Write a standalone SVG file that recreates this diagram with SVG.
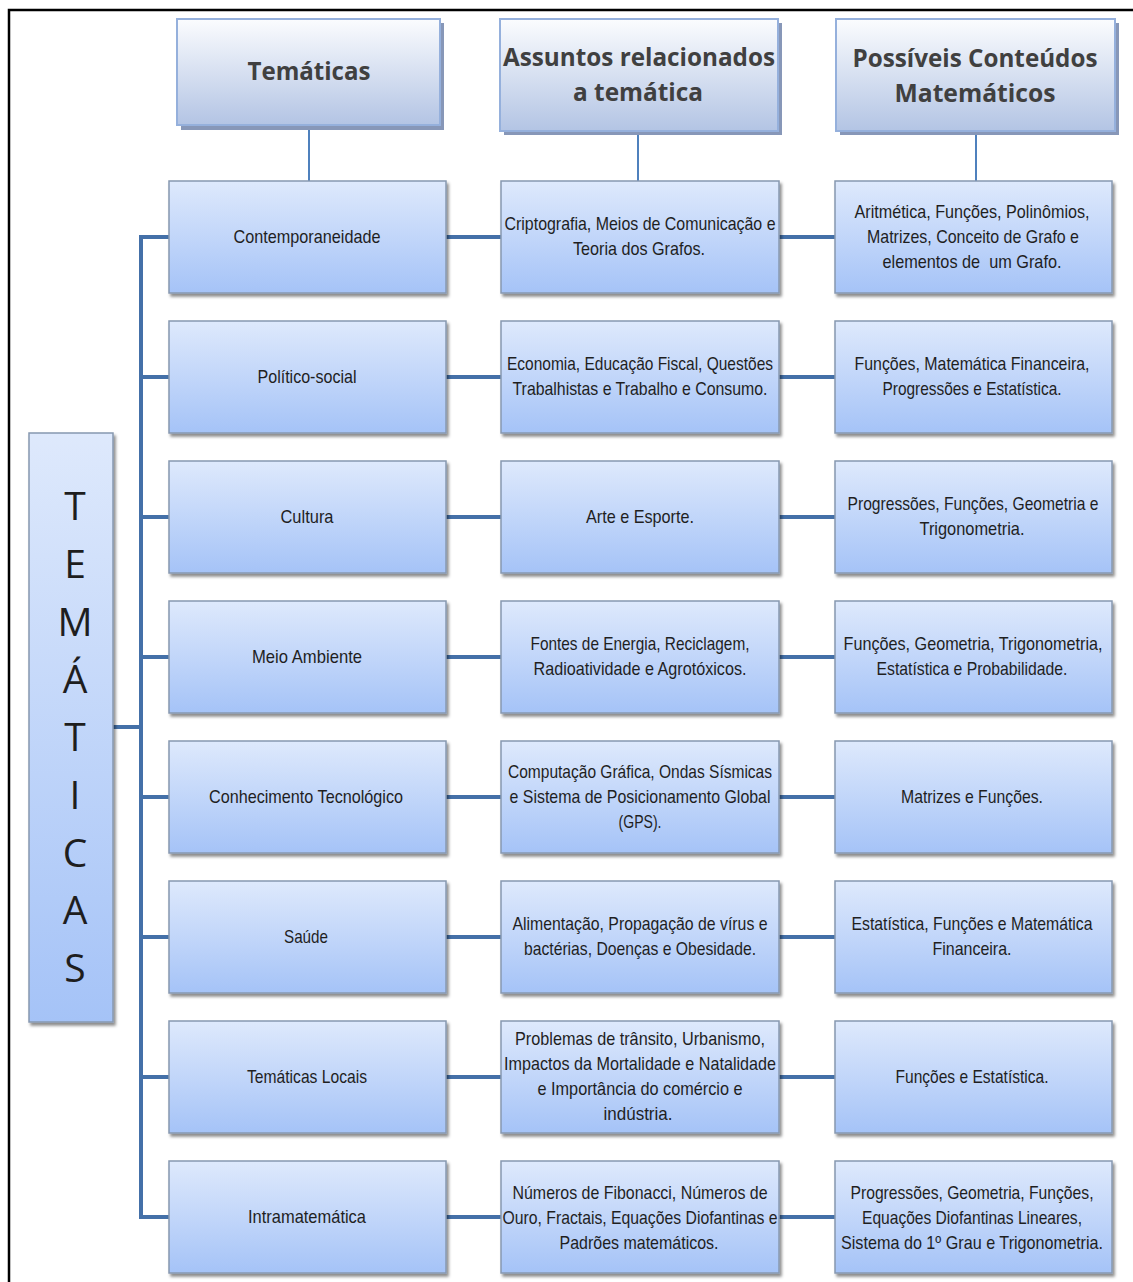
<svg xmlns="http://www.w3.org/2000/svg" width="1133" height="1282" viewBox="0 0 1133 1282">
<style>
.t{font-family:"Liberation Sans",Arial,sans-serif;font-size:19px;fill:#1f1f1f;text-anchor:middle}
.h{font-family:"Open Sans","Liberation Sans",sans-serif;font-size:25px;font-weight:bold;fill:#404040;text-anchor:middle}
.v{font-family:"Open Sans","Liberation Sans",sans-serif;font-size:39px;fill:#1e1e1e;text-anchor:middle}
.n{fill:url(#ng);stroke:#8798b0;stroke-width:1.5;filter:url(#sh)}
.hb{fill:url(#hg);stroke:#95b0dc;stroke-width:2}
.hs{fill:#8797b8}
.c{fill:none;stroke:#4470a8;stroke-width:4}
.cv{fill:none;stroke:#4f81bd;stroke-width:2}
</style>
<defs>
<linearGradient id="ng" x1="0" y1="0" x2="0" y2="1">
<stop offset="0" stop-color="#dee9fc"/>
<stop offset="1" stop-color="#a5c3f7"/>
</linearGradient>
<linearGradient id="hg" x1="0" y1="0" x2="0" y2="1">
<stop offset="0" stop-color="#fbfcfe"/>
<stop offset="1" stop-color="#b3c4e4"/>
</linearGradient>
<filter id="sh" x="-10%" y="-10%" width="125%" height="125%">
<feDropShadow dx="2" dy="3" stdDeviation="1.5" flood-color="#000" flood-opacity="0.45"/>
</filter>
</defs>
<rect width="1133" height="1282" fill="#fff"/>
<path d="M9,1282 V10 H1133" fill="none" stroke="#000" stroke-width="2.5"/>

<g id="connectors">
<path class="cv" d="M309,127 V181 M638,135 V181 M976,135 V181"/>
<path class="c" d="M169,237 H141 V1217 H169 M141,377 H169 M141,517 H169 M141,657 H169 M141,797 H169 M141,937 H169 M141,1077 H169 M113,727 H141"/>
<path class="c" d="M446,237 H501 M779,237 H835 M446,377 H501 M779,377 H835 M446,517 H501 M779,517 H835 M446,657 H501 M779,657 H835 M446,797 H501 M779,797 H835 M446,937 H501 M779,937 H835 M446,1077 H501 M779,1077 H835 M446,1217 H501 M779,1217 H835"/>
</g>

<g id="header-tematicas">
<rect class="hs" x="181" y="23" width="263" height="107"/>
<rect class="hb" x="177" y="19" width="263" height="106"/>
<text class="h" x="309" y="80" textLength="123" lengthAdjust="spacingAndGlyphs">Temáticas</text>
</g>
<g id="header-assuntos">
<rect class="hs" x="504" y="23" width="278" height="112"/>
<rect class="hb" x="500" y="19" width="278" height="112"/>
<text class="h" x="639" y="66" textLength="272" lengthAdjust="spacingAndGlyphs">Assuntos relacionados</text>
<text class="h" x="638" y="101" textLength="130" lengthAdjust="spacingAndGlyphs">a temática</text>
</g>
<g id="header-conteudos">
<rect class="hs" x="840" y="23" width="279" height="112"/>
<rect class="hb" x="836" y="19" width="279" height="112"/>
<text class="h" x="975" y="67" textLength="245" lengthAdjust="spacingAndGlyphs">Possíveis Conteúdos</text>
<text class="h" x="975" y="102" textLength="161" lengthAdjust="spacingAndGlyphs">Matemáticos</text>
</g>

<g id="tematicas-vertical">
<rect class="n" x="29" y="433" width="84" height="589"/>
<text class="v" x="75" y="520">T</text>
<text class="v" x="75" y="578">E</text>
<text class="v" x="75" y="636">M</text>
<text class="v" x="75" y="693">Á</text>
<text class="v" x="75" y="751">T</text>
<text class="v" x="75" y="809">I</text>
<text class="v" x="75" y="867">C</text>
<text class="v" x="75" y="924">A</text>
<text class="v" x="75" y="982">S</text>
</g>

<!-- Row 1 -->
<g id="r1c1"><rect class="n" x="169" y="181" width="277" height="112"/>
<text class="t" x="307" y="243" textLength="147" lengthAdjust="spacingAndGlyphs">Contemporaneidade</text></g>
<g id="r1c2"><rect class="n" x="501" y="181" width="278" height="112"/>
<text class="t" x="640" y="230" textLength="271" lengthAdjust="spacingAndGlyphs">Criptografia, Meios de Comunicação e</text>
<text class="t" x="639" y="255" textLength="132" lengthAdjust="spacingAndGlyphs">Teoria dos Grafos.</text></g>
<g id="r1c3"><rect class="n" x="835" y="181" width="277" height="112"/>
<text class="t" x="972" y="218" textLength="235" lengthAdjust="spacingAndGlyphs">Aritmética, Funções, Polinômios,</text>
<text class="t" x="973" y="243" textLength="212" lengthAdjust="spacingAndGlyphs">Matrizes, Conceito de Grafo e</text>
<text class="t" x="972" y="268" textLength="179" lengthAdjust="spacingAndGlyphs" xml:space="preserve">elementos de  um Grafo.</text></g>

<!-- Row 2 -->
<g id="r2c1"><rect class="n" x="169" y="321" width="277" height="112"/>
<text class="t" x="307" y="383" textLength="99" lengthAdjust="spacingAndGlyphs">Político-social</text></g>
<g id="r2c2"><rect class="n" x="501" y="321" width="278" height="112"/>
<text class="t" x="640" y="370" textLength="266" lengthAdjust="spacingAndGlyphs">Economia, Educação Fiscal, Questões</text>
<text class="t" x="640" y="395" textLength="255" lengthAdjust="spacingAndGlyphs">Trabalhistas e Trabalho e Consumo.</text></g>
<g id="r2c3"><rect class="n" x="835" y="321" width="277" height="112"/>
<text class="t" x="972" y="370" textLength="235" lengthAdjust="spacingAndGlyphs">Funções, Matemática Financeira,</text>
<text class="t" x="972" y="395" textLength="179" lengthAdjust="spacingAndGlyphs">Progressões e Estatística.</text></g>

<!-- Row 3 -->
<g id="r3c1"><rect class="n" x="169" y="461" width="277" height="112"/>
<text class="t" x="307" y="523" textLength="53" lengthAdjust="spacingAndGlyphs">Cultura</text></g>
<g id="r3c2"><rect class="n" x="501" y="461" width="278" height="112"/>
<text class="t" x="640" y="523" textLength="108" lengthAdjust="spacingAndGlyphs">Arte e Esporte.</text></g>
<g id="r3c3"><rect class="n" x="835" y="461" width="277" height="112"/>
<text class="t" x="973" y="510" textLength="251" lengthAdjust="spacingAndGlyphs">Progressões, Funções, Geometria e</text>
<text class="t" x="972" y="535" textLength="105" lengthAdjust="spacingAndGlyphs">Trigonometria.</text></g>

<!-- Row 4 -->
<g id="r4c1"><rect class="n" x="169" y="601" width="277" height="112"/>
<text class="t" x="307" y="663" textLength="110" lengthAdjust="spacingAndGlyphs">Meio Ambiente</text></g>
<g id="r4c2"><rect class="n" x="501" y="601" width="278" height="112"/>
<text class="t" x="640" y="650" textLength="219" lengthAdjust="spacingAndGlyphs">Fontes de Energia, Reciclagem,</text>
<text class="t" x="640" y="675" textLength="213" lengthAdjust="spacingAndGlyphs">Radioatividade e Agrotóxicos.</text></g>
<g id="r4c3"><rect class="n" x="835" y="601" width="277" height="112"/>
<text class="t" x="973" y="650" textLength="259" lengthAdjust="spacingAndGlyphs">Funções, Geometria, Trigonometria,</text>
<text class="t" x="972" y="675" textLength="191" lengthAdjust="spacingAndGlyphs">Estatística e Probabilidade.</text></g>

<!-- Row 5 -->
<g id="r5c1"><rect class="n" x="169" y="741" width="277" height="112"/>
<text class="t" x="306" y="803" textLength="194" lengthAdjust="spacingAndGlyphs">Conhecimento Tecnológico</text></g>
<g id="r5c2"><rect class="n" x="501" y="741" width="278" height="112"/>
<text class="t" x="640" y="778" textLength="264" lengthAdjust="spacingAndGlyphs">Computação Gráfica, Ondas Sísmicas</text>
<text class="t" x="640" y="803" textLength="261" lengthAdjust="spacingAndGlyphs">e Sistema de Posicionamento Global</text>
<text class="t" x="640" y="828" textLength="43" lengthAdjust="spacingAndGlyphs">(GPS).</text></g>
<g id="r5c3"><rect class="n" x="835" y="741" width="277" height="112"/>
<text class="t" x="972" y="803" textLength="142" lengthAdjust="spacingAndGlyphs">Matrizes e Funções.</text></g>

<!-- Row 6 -->
<g id="r6c1"><rect class="n" x="169" y="881" width="277" height="112"/>
<text class="t" x="306" y="943" textLength="44" lengthAdjust="spacingAndGlyphs">Saúde</text></g>
<g id="r6c2"><rect class="n" x="501" y="881" width="278" height="112"/>
<text class="t" x="640" y="930" textLength="255" lengthAdjust="spacingAndGlyphs">Alimentação, Propagação de vírus e</text>
<text class="t" x="640" y="955" textLength="232" lengthAdjust="spacingAndGlyphs">bactérias, Doenças e Obesidade.</text></g>
<g id="r6c3"><rect class="n" x="835" y="881" width="277" height="112"/>
<text class="t" x="972" y="930" textLength="241" lengthAdjust="spacingAndGlyphs">Estatística, Funções e Matemática</text>
<text class="t" x="972" y="955" textLength="79" lengthAdjust="spacingAndGlyphs">Financeira.</text></g>

<!-- Row 7 -->
<g id="r7c1"><rect class="n" x="169" y="1021" width="277" height="112"/>
<text class="t" x="307" y="1083" textLength="120" lengthAdjust="spacingAndGlyphs">Temáticas Locais</text></g>
<g id="r7c2"><rect class="n" x="501" y="1021" width="278" height="112"/>
<text class="t" x="640" y="1045" textLength="250" lengthAdjust="spacingAndGlyphs">Problemas de trânsito, Urbanismo,</text>
<text class="t" x="640" y="1070" textLength="272" lengthAdjust="spacingAndGlyphs">Impactos da Mortalidade e Natalidade</text>
<text class="t" x="640" y="1095" textLength="205" lengthAdjust="spacingAndGlyphs">e Importância do comércio e</text>
<text class="t" x="638" y="1120" textLength="69" lengthAdjust="spacingAndGlyphs">indústria.</text></g>
<g id="r7c3"><rect class="n" x="835" y="1021" width="277" height="112"/>
<text class="t" x="972" y="1083" textLength="153" lengthAdjust="spacingAndGlyphs">Funções e Estatística.</text></g>

<!-- Row 8 -->
<g id="r8c1"><rect class="n" x="169" y="1161" width="277" height="112"/>
<text class="t" x="307" y="1223" textLength="118" lengthAdjust="spacingAndGlyphs">Intramatemática</text></g>
<g id="r8c2"><rect class="n" x="501" y="1161" width="278" height="112"/>
<text class="t" x="640" y="1199" textLength="255" lengthAdjust="spacingAndGlyphs">Números de Fibonacci, Números de</text>
<text class="t" x="640" y="1224" textLength="275" lengthAdjust="spacingAndGlyphs">Ouro, Fractais, Equações Diofantinas e</text>
<text class="t" x="639" y="1249" textLength="159" lengthAdjust="spacingAndGlyphs">Padrões matemáticos.</text></g>
<g id="r8c3"><rect class="n" x="835" y="1161" width="277" height="112"/>
<text class="t" x="972" y="1199" textLength="243" lengthAdjust="spacingAndGlyphs">Progressões, Geometria, Funções,</text>
<text class="t" x="972" y="1224" textLength="220" lengthAdjust="spacingAndGlyphs">Equações Diofantinas Lineares,</text>
<text class="t" x="972" y="1249" textLength="262" lengthAdjust="spacingAndGlyphs">Sistema do 1º Grau e Trigonometria.</text></g>
</svg>
